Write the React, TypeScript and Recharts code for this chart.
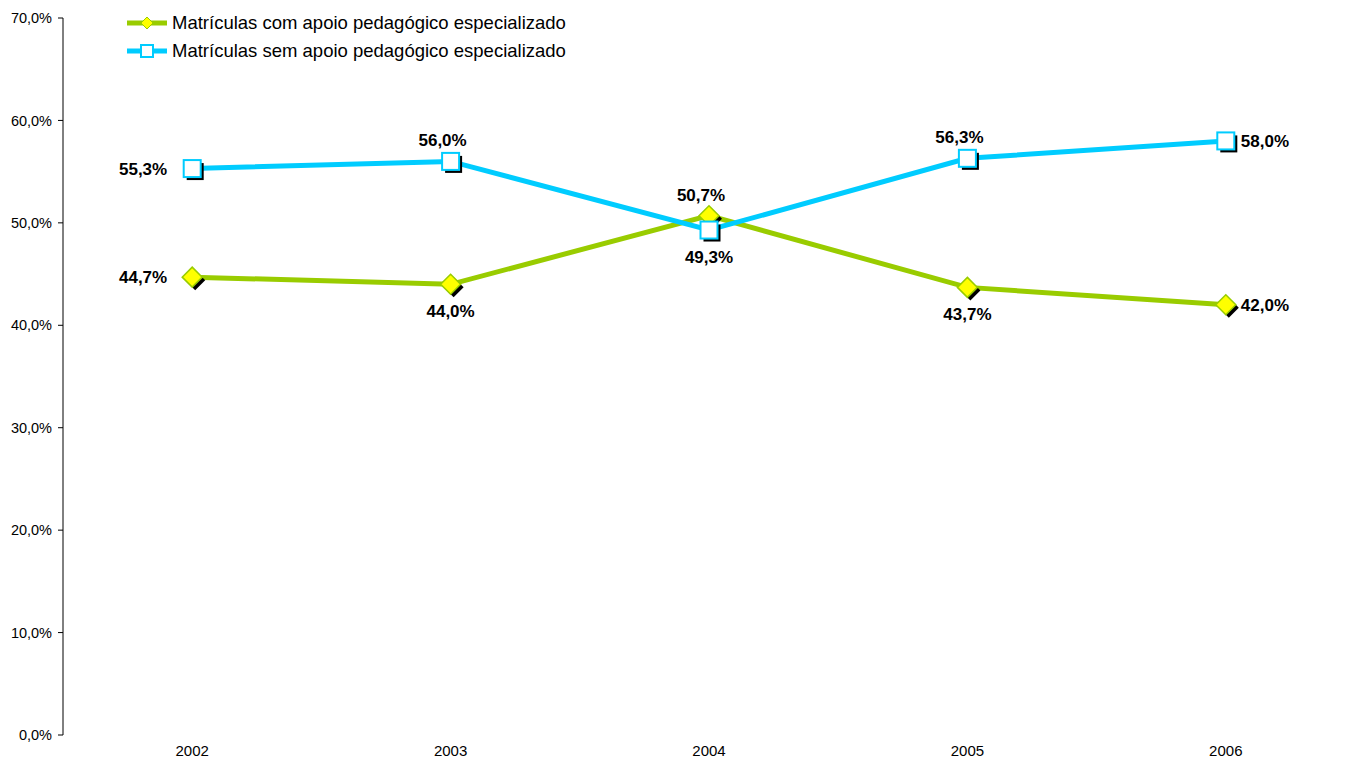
import React from 'react'
import { LineChart, Line, XAxis, YAxis, Legend, LabelList } from 'recharts'

const years = ['2002', '2003', '2004', '2005', '2006']
const comApoio = [44.7, 44.0, 50.7, 43.7, 42.0]
const semApoio = [55.3, 56.0, 49.3, 56.3, 58.0]
const yTicks = [0, 10, 20, 30, 40, 50, 60, 70]
const seriesNames = [
  'Matrículas com apoio pedagógico especializado',
  'Matrículas sem apoio pedagógico especializado',
]

const GREEN = '#99cc00'
const BLUE = '#00ccff'
const FONT = '"Liberation Sans", Arial, sans-serif'

const data = years.map((year, i) => ({
  pos: i + 0.5,
  year,
  com: comApoio[i],
  sem: semApoio[i],
}))

const fmt = (v: number) => v.toFixed(1).replace('.', ',') + '%'

// where each value label sits relative to its point
const comLabelPos = ['left', 'bottom', 'top', 'bottom', 'right']
const semLabelPos = ['left', 'top', 'bottom', 'top', 'right']

const DiamondDot = (props: any) => {
  const { cx, cy } = props
  if (cx == null || cy == null) return null
  const r = 10
  const pts = (dx: number, dy: number) =>
    `${cx + dx},${cy - r + dy} ${cx + r + dx},${cy + dy} ${cx + dx},${cy + r + dy} ${cx - r + dx},${cy + dy}`
  return (
    <g>
      <polygon points={pts(3, 3)} fill="#000" />
      <polygon points={pts(0, 0)} fill="#ffff00" stroke={GREEN} strokeWidth={1.5} />
    </g>
  )
}

const SquareDot = (props: any) => {
  const { cx, cy } = props
  if (cx == null || cy == null) return null
  const s = 17
  return (
    <g>
      <rect x={cx - s / 2 + 3} y={cy - s / 2 + 3} width={s} height={s} fill="#000" />
      <rect x={cx - s / 2} y={cy - s / 2} width={s} height={s} fill="#fff" stroke={BLUE} strokeWidth={2} />
    </g>
  )
}

const makeLabel = (positions: string[]) => (props: any) => {
  const { x, y, value, index } = props
  const pos = positions[index]
  let tx = x
  let ty = y
  let anchor: 'start' | 'middle' | 'end' = 'middle'
  if (pos === 'left') { tx = x - 25; anchor = 'end'; ty = y + 6 }
  if (pos === 'right') { tx = x + 15; anchor = 'start'; ty = y + 6 }
  if (pos === 'top') { tx = x - 8; ty = y - 15 }
  if (pos === 'bottom') { ty = y + 33 }
  return (
    <text x={tx} y={ty} textAnchor={anchor} fontFamily={FONT} fontSize={17} fontWeight="bold" fill="#000">
      {fmt(Number(value))}
    </text>
  )
}

const LegendContent = () => (
  <div style={{ fontFamily: FONT, fontSize: 18.5, color: '#000' }}>
    {seriesNames.map((name, i) => (
      <div key={name} style={{ display: 'flex', alignItems: 'center', height: 28 }}>
        <svg width={44} height={20}>
          <line x1={0} y1={10} x2={40} y2={10} stroke={i === 0 ? GREEN : BLUE} strokeWidth={5} />
          {i === 0 ? (
            <polygon points="20,4 26,10 20,16 14,10" fill="#ffff00" stroke={GREEN} strokeWidth={1} />
          ) : (
            <rect x={14} y={4} width={12} height={12} fill="#fff" stroke={BLUE} strokeWidth={2} />
          )}
        </svg>
        <span style={{ marginLeft: 1 }}>{name}</span>
      </div>
    ))}
  </div>
)

export default function App() {
  return (
    <div style={{ position: 'absolute', left: 0, top: 0, width: 1349, height: 760, overflow: 'hidden', background: '#fff' }}>
      <LineChart width={1356} height={760} data={data} margin={{ top: 18, right: 1, bottom: 0, left: 0 }}>
        <XAxis
          xAxisId="bounds"
          dataKey="pos"
          type="number"
          domain={[0, 5]}
          ticks={[0, 1, 2, 3, 4, 5]}
          tickFormatter={() => ''}
          height={0}
          tickSize={5}
          stroke="#808080"
          axisLine={{ stroke: '#808080', strokeWidth: 1.5 }}
          tickLine={{ stroke: '#808080' }}
        />
        <XAxis
          xAxisId="labels"
          dataKey="pos"
          type="number"
          domain={[0, 5]}
          ticks={[0.5, 1.5, 2.5, 3.5, 4.5]}
          tickFormatter={(v: number) => years[Math.floor(v)]}
          axisLine={false}
          tickLine={false}
          height={25}
          tickSize={6}
          tickMargin={4}
          tick={{ fill: '#000', fontSize: 15, fontFamily: FONT }}
        />
        <YAxis
          type="number"
          domain={[0, 70]}
          ticks={yTicks}
          width={63}
          tickSize={5}
          tickMargin={6}
          tickFormatter={(v: number) => fmt(v)}
          axisLine={{ stroke: '#000' }}
          tickLine={{ stroke: '#000' }}
          tick={{ fill: '#000', fontSize: 14.5, fontFamily: FONT }}
        />
        <Legend
          layout="horizontal"
          verticalAlign="middle"
          align="center"
          content={<LegendContent />}
          wrapperStyle={{ top: 9, left: 127, width: 'auto', height: 'auto' }}
        />
        <Line
          xAxisId="bounds"
          type="linear"
          dataKey="com"
          name={seriesNames[0]}
          stroke={GREEN}
          strokeWidth={5}
          dot={<DiamondDot />}
          activeDot={false}
          isAnimationActive={false}
        >
          <LabelList dataKey="com" content={makeLabel(comLabelPos)} />
        </Line>
        <Line
          xAxisId="bounds"
          type="linear"
          dataKey="sem"
          name={seriesNames[1]}
          stroke={BLUE}
          strokeWidth={5}
          dot={<SquareDot />}
          activeDot={false}
          isAnimationActive={false}
        >
          <LabelList dataKey="sem" content={makeLabel(semLabelPos)} />
        </Line>
      </LineChart>
    </div>
  )
}
